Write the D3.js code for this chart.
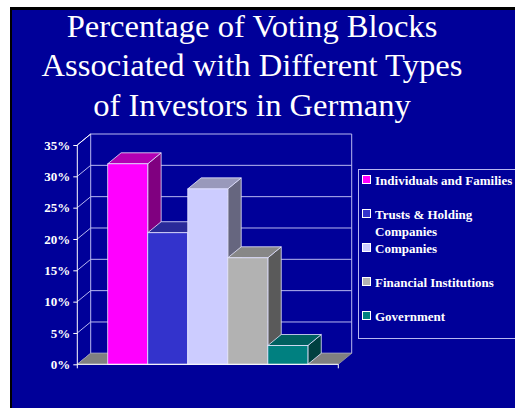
<!DOCTYPE html>
<html>
<head>
<meta charset="utf-8">
<script src="https://cdn.jsdelivr.net/npm/d3@7"></script>
<style>
  html, body { margin: 0; padding: 0; background: #ffffff; }
  svg { display: block; }
</style>
</head>
<body>
<svg id="chart" width="515" height="408"></svg>
<script>
// Voting-block shares by investor type (percent)
const series = ["Individuals and Families", "Trusts & Holding Companies", "Companies", "Financial Institutions", "Government"];
const legendLines = [["Individuals and Families"], ["Trusts & Holding", "Companies"], ["Companies"], ["Financial Institutions"], ["Government"]];
const values = [32, 21, 28, 17, 3];
const yTicks = [0, 5, 10, 15, 20, 25, 30, 35];
const titleLines = ["Percentage of Voting Blocks", "Associated with Different Types", "of Investors in Germany"];

// Face colours per series: front, top, right side
const frontColors = ["#ff00ff", "#3333cc", "#ccccff", "#b2b2b2", "#008080"];
const topColors   = ["#b300b3", "#2a2a99", "#9999bb", "#878787", "#006060"];
const sideColors  = ["#800080", "#1f1f73", "#66667f", "#5a5a5a", "#004040"];

const serif = "'Liberation Serif', 'Times New Roman', Times, serif";
const svg = d3.select("#chart");
const W = 515, H = 408;

// slide frame
svg.append("rect").attr("x", 10).attr("y", 7).attr("width", W - 10).attr("height", H - 7).attr("fill", "#000000");
svg.append("rect").attr("x", 12).attr("y", 10).attr("width", W - 12).attr("height", H - 10).attr("fill", "#000099");

// title
svg.append("g").selectAll("text").data(titleLines).join("text")
  .attr("x", 252).attr("y", (d, i) => 37 + i * 39.3)
  .attr("text-anchor", "middle")
  .attr("font-family", serif)
  .attr("font-size", 32.6).attr("fill", "#ffffff")
  .text(d => d);

// 3D plot geometry
const x0 = 77.3, x1 = 338.3;
const dx = 13.4, dy = 11;
const y = d3.scaleLinear().domain([0, 35]).range([364.3, 145]);
const x = d3.scaleBand().domain(series).range([x0, x1]).paddingInner(0).paddingOuter(0.76);

const gridColor = "#b8b8f0";
const g = svg.append("g");

// back wall gridlines and edges
g.selectAll("line.grid").data(yTicks).join("line").attr("class", "grid")
  .attr("x1", x0 + dx).attr("x2", x1 + dx)
  .attr("y1", d => y(d) - dy).attr("y2", d => y(d) - dy)
  .attr("stroke", gridColor).attr("stroke-width", 1);
// left wall diagonals
g.selectAll("line.side").data(yTicks).join("line").attr("class", "side")
  .attr("x1", x0).attr("x2", x0 + dx)
  .attr("y1", d => y(d)).attr("y2", d => y(d) - dy)
  .attr("stroke", gridColor).attr("stroke-width", 1);
g.append("line").attr("x1", x0 + dx).attr("x2", x0 + dx).attr("y1", y(35) - dy).attr("y2", y(0) - dy)
  .attr("stroke", gridColor);
g.append("line").attr("x1", x1 + dx).attr("x2", x1 + dx).attr("y1", y(35) - dy).attr("y2", y(0) - dy)
  .attr("stroke", gridColor);

// floor
g.append("path")
  .attr("d", `M${x0},${y(0)}L${x1},${y(0)}L${x1 + dx},${y(0) - dy}L${x0 + dx},${y(0) - dy}Z`)
  .attr("fill", "#808080").attr("stroke", "#9a9aa8").attr("stroke-width", 0.8);

// bars: front, top and right faces
const edge = "#e6e6ff";
const bars = g.selectAll("g.bar").data(series).join("g").attr("class", "bar");
bars.each(function (s, i) {
  const b = d3.select(this);
  const xl = x(s), xr = x(s) + x.bandwidth();
  const yt = y(values[i]), yb = y(0);
  b.append("path")
    .attr("d", `M${xr},${yb}L${xr + dx},${yb - dy}L${xr + dx},${yt - dy}L${xr},${yt}Z`)
    .attr("fill", sideColors[i]).attr("stroke", edge).attr("stroke-width", 0.8);
  b.append("path")
    .attr("d", `M${xl},${yt}L${xr},${yt}L${xr + dx},${yt - dy}L${xl + dx},${yt - dy}Z`)
    .attr("fill", topColors[i]).attr("stroke", edge).attr("stroke-width", 0.8);
  b.append("rect")
    .attr("x", xl).attr("y", yt).attr("width", xr - xl).attr("height", yb - yt)
    .attr("fill", frontColors[i]).attr("stroke", edge).attr("stroke-width", 0.8);
});

// front axes
const axisColor = "#ffffff";
g.append("line").attr("x1", x0).attr("x2", x0).attr("y1", y(35)).attr("y2", y(0)).attr("stroke", axisColor);
g.append("line").attr("x1", x0).attr("x2", x1).attr("y1", y(0)).attr("y2", y(0)).attr("stroke", axisColor);
g.append("line").attr("x1", x0).attr("x2", x0 + dx).attr("y1", y(35)).attr("y2", y(35) - dy).attr("stroke", axisColor);
g.append("line").attr("x1", x1).attr("x2", x1).attr("y1", y(0)).attr("y2", y(0) + 4).attr("stroke", axisColor);
g.append("line").attr("x1", x0).attr("x2", x0).attr("y1", y(0)).attr("y2", y(0) + 4).attr("stroke", axisColor);

const yAxis = d3.axisLeft(y).tickValues(yTicks).tickSize(4).tickPadding(3).tickFormat(d => d + "%");
const ya = svg.append("g").attr("transform", `translate(${x0},0)`).call(yAxis);
ya.select(".domain").remove();
ya.selectAll(".tick line").attr("stroke", axisColor);
ya.selectAll(".tick text")
  .attr("fill", "#ffffff")
  .attr("font-family", serif)
  .attr("font-weight", "bold").attr("font-size", 13);

// legend
const lg = svg.append("g");
lg.append("rect").attr("x", 358.5).attr("y", 169.5).attr("width", 200).attr("height", 169)
  .attr("fill", "none").attr("stroke", gridColor).attr("stroke-width", 1);
const items = lg.selectAll("g.item").data(series).join("g").attr("class", "item")
  .attr("transform", (d, i) => `translate(362,${180 + i * 34})`);
items.append("rect").attr("x", 0.5).attr("y", -4.5).attr("width", 8).attr("height", 8)
  .attr("fill", (d, i) => frontColors[i]).attr("stroke", "#ffffff").attr("stroke-width", 1);
items.each(function (d, i) {
  d3.select(this).selectAll("text").data(legendLines[i]).join("text")
    .attr("x", 13).attr("y", (t, j) => 4.5 + j * 17)
    .attr("fill", "#ffffff")
    .attr("font-family", serif)
    .attr("font-weight", "bold").attr("font-size", 13)
    .text(t => t);
});
</script>
</body>
</html>
